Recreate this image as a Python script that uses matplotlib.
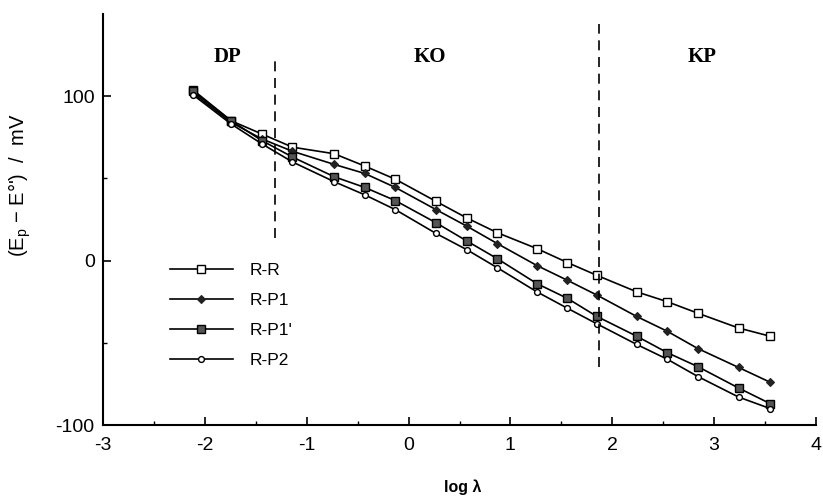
import matplotlib
matplotlib.use("Agg")
import matplotlib.pyplot as plt
from matplotlib.ticker import FixedLocator, FuncFormatter

plt.rcParams['font.family'] = ['Liberation Sans', 'DejaVu Sans']
plt.rcParams['mathtext.fontset'] = 'custom'
plt.rcParams['mathtext.rm'] = 'Liberation Sans'
plt.rcParams['mathtext.it'] = 'Liberation Sans:italic'

# ---- data ----
log_lambda = [-2.12, -1.74, -1.44, -1.14, -0.73, -0.43, -0.13, 0.27, 0.57, 0.87,
              1.26, 1.56, 1.85, 2.24, 2.54, 2.84, 3.24, 3.55]
rr   = [104, 85, 77, 69, 65, 57.5, 49.5, 36, 26, 17, 7.3, -1.2, -9, -19, -25, -32, -41, -46]
rp1  = [102, 84, 74, 66.5, 58.5, 53, 44.5, 31, 21, 10.4, -3, -12, -21, -34, -43, -53.5, -65, -74]
rp1p = [103, 85, 73, 63, 51, 44.5, 36.5, 23, 12, 1.2, -14, -23, -34, -46, -56, -64.5, -77.5, -87]
rp2  = [101, 83, 71, 60, 48, 40, 31, 16.5, 6.7, -4.3, -19, -29, -38.5, -51, -60, -70.5, -83, -90]
series_labels = ['R-R', 'R-P1', "R-P1'", 'R-P2']

region_labels = ['DP', 'KO', 'KP']
region_x = [-1.78, 0.21, 2.88]
boundary_x = [-1.31, 1.87]
boundary_ylo = [14, -65]
boundary_yhi = [123, 144]

x_ticks = [-3, -2, -1, 0, 1, 2, 3, 4]
y_ticks = [-100, 0, 100]

# ---- figure ----
fig = plt.figure(figsize=(8.23, 4.99), dpi=100)
ax = fig.add_axes([103/823, 1 - 425/499, (816 - 103)/823, (425 - 14)/499])

styles = [
    dict(marker='s', ms=5.5, mfc='white', mec='black', mew=1.0),
    dict(marker='D', ms=3.6, mfc='#222222', mec='#222222', mew=0.8),
    dict(marker='s', ms=5.5, mfc='#555555', mec='black', mew=1.0),
    dict(marker='o', ms=4.2, mfc='white', mec='black', mew=1.0),
]
for ys, lab, st in zip([rr, rp1, rp1p, rp2], series_labels, styles):
    ax.plot(log_lambda, ys, color='black', lw=1.2, label=lab, **st)

for bx, lo, hi in zip(boundary_x, boundary_ylo, boundary_yhi):
    ax.plot([bx, bx], [lo, hi], color='black', lw=1.2, linestyle=(0, (6, 4)))

for t, xx in zip(region_labels, region_x):
    ax.text(xx, 124, t, ha='center', va='center', fontsize=15,
            fontweight='bold', family='Liberation Serif')

ax.set_xlim(-3, 4)
ax.set_ylim(-100, 150)
ax.spines['top'].set_visible(False)
ax.spines['right'].set_visible(False)
ax.spines['left'].set_linewidth(1.5)
ax.spines['bottom'].set_linewidth(1.5)

ax.xaxis.set_major_locator(FixedLocator(x_ticks))
ax.xaxis.set_minor_locator(FixedLocator([v + 0.5 for v in x_ticks[:-1]]))
ax.yaxis.set_major_locator(FixedLocator(y_ticks))
ax.yaxis.set_minor_locator(FixedLocator([v + 50 for v in y_ticks[:-1]]))
fmt = FuncFormatter(lambda v, p: ('%d' % v).replace('\u2212', '-'))
ax.xaxis.set_major_formatter(fmt)
ax.yaxis.set_major_formatter(fmt)
ax.tick_params(which='major', direction='in', length=6, width=1.2, labelsize=14)
ax.tick_params(which='minor', direction='in', length=3, width=1.0)
ax.tick_params(axis='x', which='major', pad=9)
ax.tick_params(axis='y', which='major', pad=6)

leg = ax.legend(loc='upper left', bbox_to_anchor=(0.082, 0.415), frameon=False,
                fontsize=12.5, handlelength=3.6, handletextpad=1.0,
                labelspacing=0.85, borderpad=0)

fig.text(20/823, 1 - 185/499, "(E$_\\mathrm{p}$ \u2212 E\u00b0')  /  mV",
         rotation=90, ha='center', va='center', fontsize=14.5)
fig.text(463/823, 1 - 487/499, 'log λ', ha='center', va='center',
         fontsize=11.5, fontweight='bold')

fig.savefig('out.png', dpi=100)
